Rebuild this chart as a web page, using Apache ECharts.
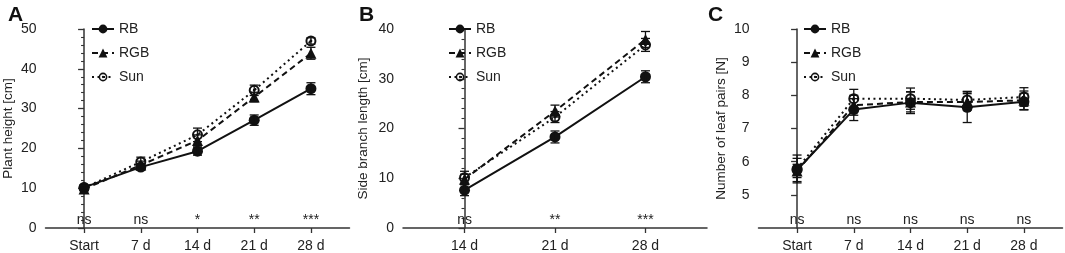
<!DOCTYPE html>
<html>
<head>
<meta charset="utf-8">
<script src="https://cdn.jsdelivr.net/npm/echarts@6/dist/echarts.min.js"></script>
<style>
  html, body { margin: 0; padding: 0; background: #fff; }
  #chart { width: 1065px; height: 253px; }
</style>
</head>
<body>
<div id="chart"></div>
<script>
// time points
const timesA = ['Start', '7 d', '14 d', '21 d', '28 d'];
const timesB = ['14 d', '21 d', '28 d'];
const timesC = ['Start', '7 d', '14 d', '21 d', '28 d'];

// A: plant height [cm]
const heightRB = [10.2, 15.3, 19.3, 27.1, 35.0];
const heightRBErr = [0.6, 0.8, 1.0, 1.3, 1.5];
const heightRGB = [9.8, 15.8, 22.0, 32.9, 43.9];
const heightRGBErr = [0.5, 1.0, 1.4, 1.2, 1.5];
const heightSun = [10.1, 16.6, 23.4, 34.6, 47.0];
const heightSunErr = [0.6, 1.2, 1.7, 1.3, 0.8];
const sigA = ['ns', 'ns', '*', '**', '***'];

// B: side branch length [cm]
const branchRB = [7.6, 18.3, 30.4];
const branchRBErr = [1.1, 1.2, 1.2];
const branchRGB = [9.8, 23.5, 37.9];
const branchRGBErr = [1.0, 1.2, 1.6];
const branchSun = [10.1, 22.3, 36.8];
const branchSunErr = [1.3, 1.1, 1.3];
const sigB = ['ns', '**', '***'];

// C: number of leaf pairs
const leafRB = [5.75, 7.57, 7.78, 7.64, 7.81];
const leafRBErr = [0.35, 0.33, 0.33, 0.46, 0.25];
const leafRGB = [5.72, 7.70, 7.80, 7.80, 7.85];
const leafRGBErr = [0.2, 0.3, 0.3, 0.25, 0.28];
const leafSun = [5.78, 7.90, 7.90, 7.86, 7.95];
const leafSunErr = [0.42, 0.28, 0.32, 0.26, 0.28];
const sigC = ['ns', 'ns', 'ns', 'ns', 'ns'];

const FONT = 'Arial, "Liberation Sans", sans-serif';
const INK = '#111';
const AXIS = '#333';

// circle with a dot in the middle (Sun marker)
const sunSymbol = 'path://M0,-10A10,10,0,1,1,0,10A10,10,0,1,1,0,-10Z' +
    'M0,-6.4A6.4,6.4,0,1,0,0,6.4A6.4,6.4,0,1,0,0,-6.4Z' +
    'M0,-2.6A2.6,2.6,0,1,1,0,2.6A2.6,2.6,0,1,1,0,-2.6Z';

const groups = [
    { name: 'RB', symbol: 'circle', size: 11, dash: 'solid' },
    { name: 'RGB', symbol: 'triangle', size: 11, dash: [6, 4] },
    { name: 'Sun', symbol: sunSymbol, size: 11, dash: [2, 3.5] }
];

const panels = [
    {
        letter: 'A', times: timesA, sig: sigA, yName: 'Plant height [cm]',
        left: 45.5, yMin: 0, yMax: 50, yInt: 10, minor: true, nameGap: 30,
        values: [heightRB, heightRGB, heightSun],
        errs: [heightRBErr, heightRGBErr, heightSunErr],
        legendLeft: 86, letterLeft: 3
    },
    {
        letter: 'B', times: timesB, sig: sigB, yName: 'Side branch length [cm]',
        left: 403, yMin: 0, yMax: 40, yInt: 10, minor: true, nameGap: 33,
        values: [branchRB, branchRGB, branchSun],
        errs: [branchRBErr, branchRGBErr, branchSunErr],
        legendLeft: 443, letterLeft: 354
    },
    {
        letter: 'C', times: timesC, sig: sigC, yName: 'Number of leaf pairs [N]',
        left: 758.5, yMin: 4, yMax: 10, yInt: 1, minor: false, nameGap: 30.5,
        values: [leafRB, leafRGB, leafSun],
        errs: [leafRBErr, leafRGBErr, leafSunErr],
        legendLeft: 798, letterLeft: 703
    }
];

function errRender(params, api) {
    const x = api.value(0), y = api.value(1), e = api.value(2);
    const top = api.coord([x, y + e]);
    const bot = api.coord([x, y - e]);
    const w = 4.5;
    const style = { stroke: INK, lineWidth: 1.3 };
    return {
        type: 'group',
        children: [
            { type: 'line', shape: { x1: top[0], y1: top[1], x2: bot[0], y2: bot[1] }, style },
            { type: 'line', shape: { x1: top[0] - w, y1: top[1], x2: top[0] + w, y2: top[1] }, style },
            { type: 'line', shape: { x1: bot[0] - w, y1: bot[1], x2: bot[0] + w, y2: bot[1] }, style }
        ]
    };
}

function sigRender(labels, yMin) {
    return function (params, api) {
        const p = api.coord([api.value(0), yMin]);
        return {
            type: 'text',
            x: p[0], y: p[1] - 1,
            style: {
                text: labels[params.dataIndex], fill: '#222', font: '14px ' + FONT,
                align: 'center', verticalAlign: 'bottom'
            }
        };
    };
}

const grid = [], xAxis = [], yAxis = [], series = [], legend = [], title = [];

panels.forEach((p, pi) => {
    const n = p.times.length;
    const pad = 0.68;
    grid.push({ left: p.left, top: 29, width: 304, height: 201, containLabel: false });
    const idx = p.times.map((t, i) => i);
    xAxis.push({
        type: 'value', gridIndex: pi, min: -pad, max: n - 1 + pad,
        splitLine: { show: false },
        axisLine: { lineStyle: { color: AXIS, width: 1.5 } },
        axisTick: { customValues: idx, length: 5, lineStyle: { color: AXIS, width: 1.3 } },
        axisLabel: {
            customValues: idx, margin: 11, color: '#222', fontSize: 14, fontFamily: FONT,
            formatter: v => p.times[Math.round(v)]
        }
    });
    const yTicks = [];
    for (let v = p.yMin; v <= p.yMax + 1e-9; v += p.yInt) {
        if (p.letter !== 'C' || v > p.yMin) yTicks.push(v);
    }
    yAxis.push({
        type: 'value', gridIndex: pi, min: p.yMin, max: p.yMax, interval: p.yInt,
        name: p.yName, nameLocation: 'middle', nameGap: p.nameGap,
        nameTextStyle: { color: '#222', fontSize: 13.5, fontFamily: FONT },
        splitLine: { show: false },
        axisLine: { show: true, lineStyle: { color: AXIS, width: 1.5 } },
        axisTick: { show: true, customValues: yTicks, length: 6, lineStyle: { color: AXIS, width: 1.3 } },
        minorTick: { show: p.minor, splitNumber: 5, length: 3, lineStyle: { color: AXIS, width: 1.1 } },
        axisLabel: {
            customValues: yTicks, margin: 9, color: '#222', fontSize: 14, fontFamily: FONT
        }
    });
    groups.forEach((g, gi) => {
        series.push({
            name: g.name, type: 'line', xAxisIndex: pi, yAxisIndex: pi,
            data: p.values[gi].map((v, i) => [i, v]),
            symbol: g.symbol, symbolSize: g.size,
            lineStyle: { color: INK, width: 2, type: g.dash },
            itemStyle: { color: INK },
            z: 3
        });
        series.push({
            type: 'custom', xAxisIndex: pi, yAxisIndex: pi,
            data: p.values[gi].map((v, i) => [i, v, p.errs[gi][i]]),
            renderItem: errRender, silent: true, z: 4
        });
    });
    series.push({
        type: 'custom', xAxisIndex: pi, yAxisIndex: pi,
        data: p.sig.map((s, i) => [i, p.yMin]),
        renderItem: sigRender(p.sig, p.yMin), silent: true, z: 5
    });
    legend.push({
        data: groups.map(g => g.name), orient: 'vertical',
        left: p.legendLeft, top: 17, itemWidth: 22, itemHeight: 11, itemGap: 10,
        selectedMode: false,
        textStyle: { color: '#222', fontSize: 14, fontFamily: FONT }
    });
    title.push({
        text: p.letter, left: p.letterLeft, top: 0,
        textStyle: { fontSize: 21, fontWeight: 'bold', color: '#111', fontFamily: FONT }
    });
});

const chart = echarts.init(document.getElementById('chart'));
chart.setOption({
    animation: false,
    backgroundColor: '#fff',
    title, legend, grid, xAxis, yAxis, series
});
</script>
</body>
</html>
